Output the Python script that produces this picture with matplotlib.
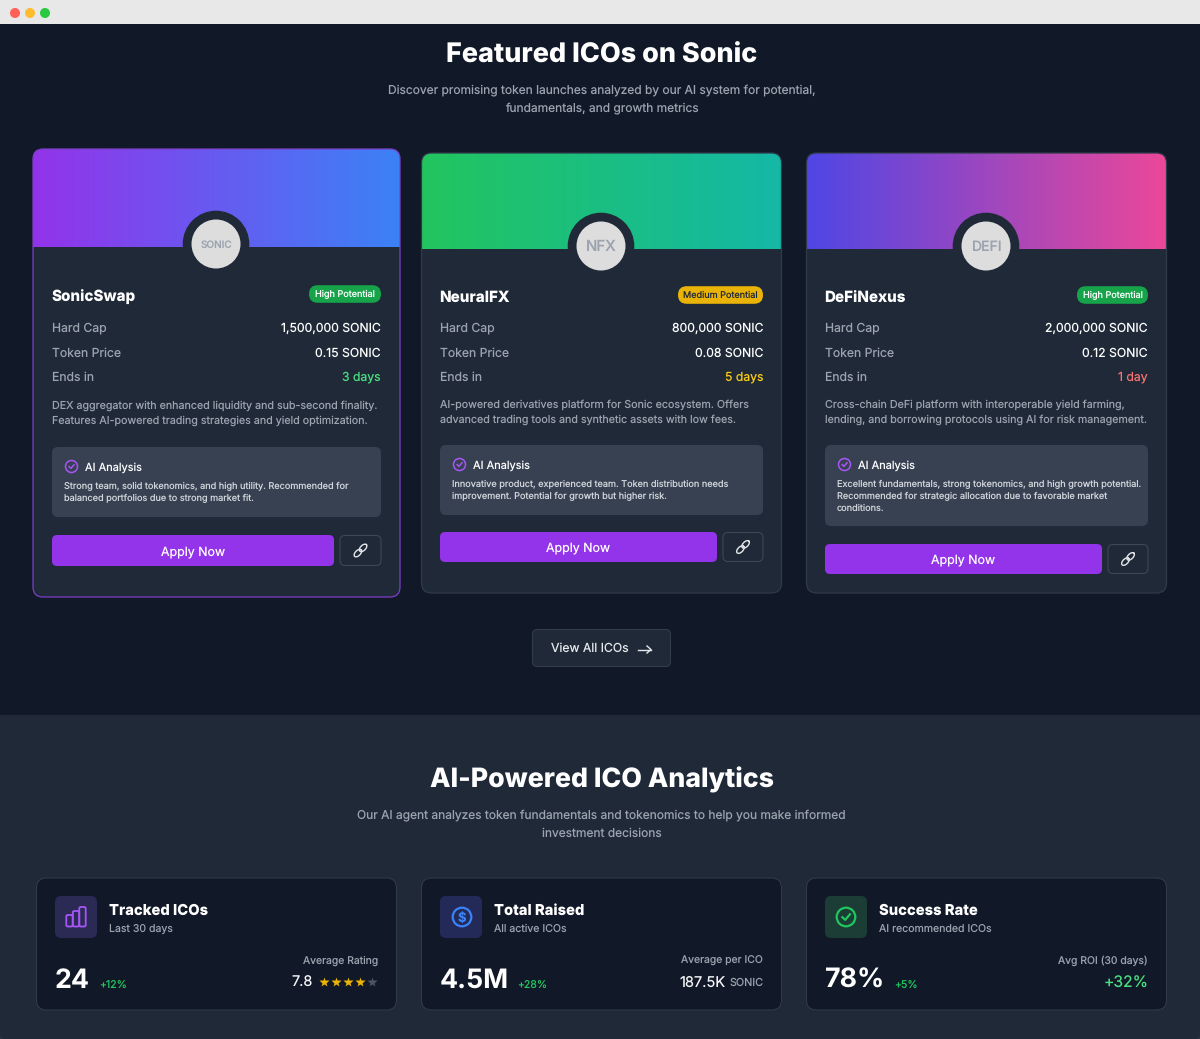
import numpy as np
import matplotlib
matplotlib.use('Agg')
import matplotlib.pyplot as plt
from matplotlib.colors import LinearSegmentedColormap
from matplotlib.patches import Circle, FancyBboxPatch, Rectangle

plt.rcParams['font.family'] = ['Inter', 'DejaVu Sans']
plt.rcParams['text.hinting'] = 'no_hinting'

# ICO cards
names = ['SonicSwap', 'NeuralFX', 'DeFiNexus']
tickers = ['SONIC', 'NFX', 'DEFI']
ratings = ['High Potential', 'Medium Potential', 'High Potential']
hard_caps = ['1,500,000 SONIC', '800,000 SONIC', '2,000,000 SONIC']
token_prices = ['0.15 SONIC', '0.08 SONIC', '0.12 SONIC']
ends_in = ['3 days', '5 days', '1 day']
descriptions = [
    ['DEX aggregator with enhanced liquidity and sub-second finality.',
     'Features AI-powered trading strategies and yield optimization.'],
    ['AI-powered derivatives platform for Sonic ecosystem. Offers',
     'advanced trading tools and synthetic assets with low fees.'],
    ['Cross-chain DeFi platform with interoperable yield farming,',
     'lending, and borrowing protocols using AI for risk management.'],
]
analyses = [
    ['Strong team, solid tokenomics, and high utility. Recommended for',
     'balanced portfolios due to strong market fit.'],
    ['Innovative product, experienced team. Token distribution needs',
     'improvement. Potential for growth but higher risk.'],
    ['Excellent fundamentals, strong tokenomics, and high growth potential.',
     'Recommended for strategic allocation due to favorable market',
     'conditions.'],
]

# stat cards
stat_titles = ['Tracked ICOs', 'Total Raised', 'Success Rate']
stat_subs = ['Last 30 days', 'All active ICOs', 'AI recommended ICOs']
stat_values = ['24', '4.5M', '78%']
stat_deltas = ['+12%', '+28%', '+5%']
stat_labels = ['Average Rating', 'Average per ICO', 'Avg ROI (30 days)']
avg_rating = 7.8
filled_stars = 4

WHITE = '#ffffff'
GREY = '#9ca3af'
DARK = '#111827'
PANEL = '#1f2937'
LINE = '#374151'
PURPLE = '#9333ea'
GREEN = '#4ade80'


def box(ax, x0, y0, x1, y1, r, fc, ec='none', lw=1.0, z=2):
    p = FancyBboxPatch((x0 + r, y0 + r), x1 - x0 - 2 * r, y1 - y0 - 2 * r,
                       boxstyle=f'round,pad={r},rounding_size={r}',
                       fc=fc, ec=ec, lw=lw, zorder=z)
    ax.add_patch(p)
    return p


def label(ax, x, y, s, size, color=WHITE, weight='normal', ha='left', z=5):
    # y is the middle of the capitals, in pixels
    ax.text(x, y + 0.36 * size, s, fontsize=size * 0.72, color=color, fontweight=weight,
            ha=ha, va='baseline', zorder=z)


def chain_icon(ax, cx, cy, color='#e5e7eb'):
    for dx in (-2.6, 2.6):
        t = np.radians(-45)
        c, s = np.cos(t), np.sin(t)
        a = np.linspace(0, 2 * np.pi, 40)
        ex = 4.6 * np.cos(a)
        ey = 2.6 * np.sin(a)
        ax.plot(cx + dx + ex * c - ey * s, cy - dx + ex * s + ey * c,
                color=color, lw=1.0, zorder=6)


def check_icon(ax, cx, cy, r, color, lw):
    ax.add_patch(Circle((cx, cy), r, fc='none', ec=color, lw=lw, zorder=6))
    k = r / 9
    ax.plot([cx - 3.5 * k, cx - 0.8 * k, cx + 3.8 * k],
            [cy + 0.2 * k, cy + 2.8 * k, cy - 2.6 * k],
            color=color, lw=lw, zorder=6)


fig = plt.figure(figsize=(12, 10.39), dpi=100, facecolor='#2a3340')
ax = fig.add_axes([0, 0, 1, 1])
ax.axis('off')

# page background and window bar
box(ax, 0, 700, 1200, 1039, 6, PANEL, z=0)
ax.add_patch(Rectangle((0, 715), 1200, 300, fc=PANEL, ec='none', zorder=0))
ax.add_patch(Rectangle((0, 24), 1200, 691, fc=DARK, ec='none', zorder=0.5))
ax.add_patch(Rectangle((0, 0), 1200, 24, fc='#e8e8e8', ec='none', zorder=1))
for x, c in zip([15, 30, 45], ['#ff5f57', '#febc2e', '#28c840']):
    ax.add_patch(Circle((x, 13), 5, fc=c, ec='none', zorder=2))

label(ax, 601.5, 53, 'Featured ICOs on Sonic', 27, weight=800, ha='center')
label(ax, 601.5, 89.5, 'Discover promising token launches analyzed by our AI system for potential,',
      12, GREY, ha='center')
label(ax, 601.5, 107.5, 'fundamentals, and growth metrics', 12, GREY, ha='center')

# layout of the three ICO cards
card_x = [(33, 400), (421.5, 781.5), (806.5, 1166.5)]
card_y = [(149, 597), (153, 593), (153, 593)]
head_end = [247, 249, 249]
text_x = [(52, 381), (440, 763), (825, 1148)]
avatar_c = [(216, 244), (601, 246), (986, 246)]
name_y = [295, 296, 296]
row_y = [(327, 352, 376), (327, 352, 376), (327, 352, 376)]
desc_y = [405, 404, 404]
ai_box_y = [(447, 517), (445, 515), (445, 526)]
btn_y = [(535, 566), (532, 562), (544, 574)]
btn_right = [334, 717, 1102]
badge_left = [309, 678, 1077]
gradients = [('#9333ea', '#3b82f6'), ('#22c55e', '#14b8a6'), ('#4f46e5', '#ec4899')]
badge_colors = ['#16a34a', '#eab308', '#16a34a']
badge_text = [WHITE, '#1f2937', WHITE]
end_colors = [GREEN, '#facc15', '#f87171']
borders = ['#7c3fc4', '#2f3a4a', '#2f3a4a']
ticker_sizes = [10, 15, 14]

for i in range(3):
    x0, x1 = card_x[i]
    y0, y1 = card_y[i]
    left, right = text_x[i]
    card = box(ax, x0, y0, x1, y1, 10, PANEL, z=1)
    cmap = LinearSegmentedColormap.from_list('head', gradients[i])
    im = ax.imshow(np.linspace(0, 1, 256).reshape(1, -1), cmap=cmap, aspect='auto',
                   extent=(x0, x1, head_end[i], y0), zorder=1.5)
    im.set_clip_path(card)
    box(ax, x0, y0, x1, y1, 10, 'none', ec=borders[i], lw=0.9, z=3)

    cx, cy = avatar_c[i]
    ax.add_patch(Circle((cx, cy), 33.3, fc=PANEL, ec='none', zorder=2))
    ax.add_patch(Circle((cx, cy), 24.5, fc='#dddddd', ec='none', zorder=3))
    label(ax, cx, cy, tickers[i], ticker_sizes[i], GREY, weight=500, ha='center')

    label(ax, left - 0.8, name_y[i], names[i], 15.2, weight=800)
    by = name_y[i] - 1
    box(ax, badge_left[i], by - 8.8, right, by + 8.8, 8.8, badge_colors[i], z=3)
    label(ax, (badge_left[i] + right) / 2, by, ratings[i], 9.1, badge_text[i], ha='center')

    rows = zip(row_y[i], ['Hard Cap', 'Token Price', 'Ends in'],
               [hard_caps[i], token_prices[i], ends_in[i]],
               [WHITE, WHITE, end_colors[i]])
    for y, k, v, c in rows:
        label(ax, left, y, k, 12.2, GREY)
        label(ax, right, y, v, 12.2, c, ha='right')

    for n, line in enumerate(descriptions[i]):
        label(ax, left, desc_y[i] + 15 * n, line, 10.7, GREY)

    ay0, ay1 = ai_box_y[i]
    box(ax, left, ay0, right, ay1, 6, LINE, z=2)
    check_icon(ax, left + 19.5, ay0 + 19.5, 6, '#a855f7', 1.1)
    label(ax, left + 33, ay0 + 20, 'AI Analysis', 11)
    for n, line in enumerate(analyses[i]):
        label(ax, left + 12, ay0 + 39 + 12 * n, line, 9.15, '#d1d5db')

    by0, by1 = btn_y[i]
    box(ax, left, by0, btn_right[i], by1, 5, PURPLE, z=3)
    label(ax, (left + btn_right[i]) / 2, (by0 + by1) / 2, 'Apply Now', 12.4, ha='center')
    box(ax, btn_right[i] + 6, by0 + 0.5, right, by1 - 0.5, 5, PANEL, ec='#404b5a', lw=0.7, z=3)
    chain_icon(ax, (btn_right[i] + 6 + right) / 2, (by0 + by1) / 2)

# view all button
box(ax, 532.5, 629.5, 670.5, 666.5, 5, PANEL, ec='#323d4c', lw=0.8, z=2)
label(ax, 551, 647.5, 'View All ICOs', 12.2, '#e5e7eb')
ax.plot([638, 651], [649.5, 649.5], color='#e5e7eb', lw=1.0, zorder=5)
ax.plot([647, 651, 647], [646, 649.5, 653], color='#e5e7eb', lw=1.0, zorder=5)

# analytics section
label(ax, 601.5, 778, 'AI-Powered ICO Analytics', 26.7, weight=800, ha='center')
label(ax, 601.5, 814.5, 'Our AI agent analyzes token fundamentals and tokenomics to help you make informed',
      12, GREY, ha='center')
label(ax, 601.5, 832.5, 'investment decisions', 12, GREY, ha='center')

stat_x = [36.5, 421.5, 806.5]
icon_bg = ['#2b2a55', '#232a58', '#1b3d36']
value_w = [45, 78, 70]

for i in range(3):
    x = stat_x[i]
    box(ax, x, 878, x + 360, 1010, 10, DARK, ec='#2f3a4a', lw=0.8, z=2)
    box(ax, x + 18.5, 896, x + 60.5, 938, 6, icon_bg[i], z=3)
    icx = x + 39.5
    if i == 0:
        for dx, top in zip([-6.5, 0, 6.5], [915, 911, 907]):
            box(ax, icx + dx - 3.2, top, icx + dx + 3.2, 926.5, 1.5, 'none', ec='#a855f7', lw=1.3, z=6)
    elif i == 1:
        ax.add_patch(Circle((icx + 1, 917), 9.3, fc='none', ec='#3b82f6', lw=1.6, zorder=6))
        label(ax, icx + 1, 917, '$', 13, '#3b82f6', weight='bold', ha='center', z=6)
    else:
        check_icon(ax, icx, 917, 9.3, '#22c55e', 1.6)

    label(ax, x + 72.5, 910, stat_titles[i], 14.8, weight=800)
    label(ax, x + 72.5, 928, stat_subs[i], 10.55, GREY)
    label(ax, x + 18, 978, stat_values[i], 26.8, weight='bold')
    label(ax, x + 18.5 + value_w[i] - 1, 984, stat_deltas[i], 10.5, '#22c55e')
    label(ax, x + 341.5, 960, stat_labels[i], 10.4, GREY, ha='right')

# right hand values of the stat cards
label(ax, 312.5, 982, f'{avg_rating}', 14.5, '#f3f4f6', ha='right')
for n in range(5):
    c = '#eab308' if n < filled_stars else '#4b5563'
    ax.plot(324 + 12 * n, 982, marker='*', ms=7.5, color=c, mec='none', zorder=6)
label(ax, 726, 982, '187.5K', 14.6, '#f3f4f6', ha='right')
label(ax, 763.5, 982, 'SONIC', 10.8, GREY, ha='right')
label(ax, 1148.5, 982, '+32%', 15.7, GREEN, ha='right')

ax.set_xlim(0, 1200)
ax.set_ylim(1039, 0)
fig.savefig('out.png', dpi=100, facecolor=fig.get_facecolor())
